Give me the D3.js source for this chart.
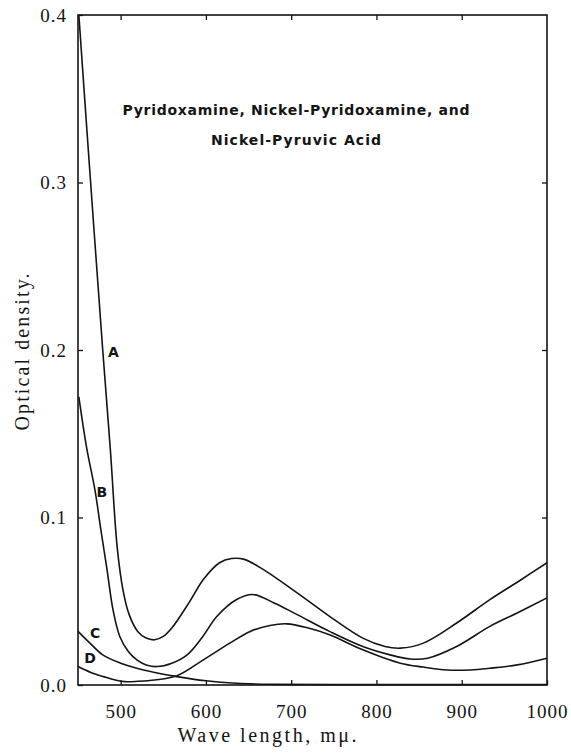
<!DOCTYPE html>
<html>
<head>
<meta charset="utf-8">
<script src="https://cdn.jsdelivr.net/npm/d3@7"></script>
<style>
  body { margin: 0; background: #fff; }
  svg { display: block; }
</style>
</head>
<body>
<svg width="571" height="753"></svg>
<script>
// wave length (m-mu) / optical density
var waveA = [451, 462, 479, 488, 496, 503, 510, 520, 530, 540, 550, 560, 580, 597, 616, 630, 645, 667, 707, 745, 784, 810, 828, 855, 894, 933, 970, 1000];
var odA   = [0.400, 0.320, 0.200, 0.140, 0.082, 0.056, 0.042, 0.032, 0.028, 0.027, 0.029, 0.034, 0.049, 0.063, 0.073, 0.0755, 0.075, 0.069, 0.055, 0.041, 0.028, 0.023, 0.022, 0.025, 0.037, 0.051, 0.063, 0.073];

var waveB = [451, 460, 470, 477, 484, 491, 499, 509, 519, 530, 543, 560, 578, 595, 613, 636, 655, 680, 707, 745, 784, 816, 840, 860, 894, 933, 965, 1000];
var odB   = [0.172, 0.142, 0.116, 0.092, 0.069, 0.045, 0.029, 0.020, 0.015, 0.012, 0.011, 0.013, 0.018, 0.028, 0.041, 0.051, 0.054, 0.049, 0.042, 0.032, 0.023, 0.018, 0.0155, 0.016, 0.023, 0.035, 0.043, 0.052];

var waveC = [450, 464, 479, 500, 519, 540, 566, 600, 636, 680, 750, 850, 1000];
var odC   = [0.032, 0.025, 0.018, 0.013, 0.010, 0.0075, 0.005, 0.0025, 0.001, 0.0004, 0.0002, 0.0002, 0.0002];

var waveD = [450, 465, 480, 495, 505, 520, 540, 566, 597, 628, 652, 675, 695, 720, 745, 784, 828, 855, 883, 910, 933, 965, 1000];
var odD   = [0.011, 0.0075, 0.005, 0.0028, 0.002, 0.0022, 0.003, 0.0055, 0.015, 0.025, 0.032, 0.0355, 0.0365, 0.034, 0.030, 0.021, 0.013, 0.0107, 0.009, 0.009, 0.010, 0.012, 0.016];

var curveNames = ["A", "B", "C", "D"];
// where each letter sits, in data units
var labelWave = [491.5, 478, 470, 464];
var labelOd   = [0.199, 0.115, 0.031, 0.016];

var xTicks = [500, 600, 700, 800, 900, 1000];
var yTicks = [0.0, 0.1, 0.2, 0.3, 0.4];

var titleLines = ["Pyridoxamine, Nickel-Pyridoxamine, and", "Nickel-Pyruvic Acid"];

(function() {
    var svg = d3.select("svg");
    var m = {left: 78, right: 547, top: 15, bottom: 685};
    var ink = "#141414";
    var serif = "'Liberation Serif', 'DejaVu Serif', serif";

    var x = d3.scaleLinear().domain([450, 1000]).range([m.left, m.right]);
    var y = d3.scaleLinear().domain([0, 0.4]).range([m.bottom, m.top]);

    function styleTicks(g) {
	g.select(".domain").remove();
	g.selectAll("line").attr("stroke", ink).attr("stroke-width", 1.3);
	g.selectAll("text")
	    .attr("fill", ink)
	    .style("font-family", serif)
	    .style("font-size", "19px")
	    .style("letter-spacing", "1px");
    }

    // bottom axis, ticks pointing in
    svg.append("g")
	.attr("transform", "translate(0," + m.bottom + ")")
	.call(d3.axisBottom(x).tickValues(xTicks).tickSize(-5).tickPadding(20).tickFormat(d3.format("d")))
	.call(styleTicks);

    svg.append("g")
	.attr("transform", "translate(" + m.left + ",0)")
	.call(d3.axisLeft(y).tickValues(yTicks).tickSize(-5).tickPadding(11).tickFormat(d3.format(".1f")))
	.call(styleTicks);

    // top and right: ticks only
    svg.append("g")
	.attr("transform", "translate(0," + m.top + ")")
	.call(d3.axisTop(x).tickValues(xTicks.slice(0, 5)).tickSize(-5).tickFormat(""))
	.call(styleTicks);

    svg.append("g")
	.attr("transform", "translate(" + m.right + ",0)")
	.call(d3.axisRight(y).tickValues(yTicks.slice(1, 4)).tickSize(-5).tickFormat(""))
	.call(styleTicks);

    // frame
    svg.append("rect")
	.attr("x", m.left).attr("y", m.top)
	.attr("width", m.right - m.left).attr("height", m.bottom - m.top)
	.attr("fill", "none")
	.attr("stroke", ink)
	.attr("stroke-width", 1.6);

    var series = [
	{name: "A", wave: waveA, od: odA},
	{name: "B", wave: waveB, od: odB},
	{name: "C", wave: waveC, od: odC},
	{name: "D", wave: waveD, od: odD}
    ];

    var line = d3.line()
	.x(function(d) { return x(d[0]); })
	.y(function(d) { return y(d[1]); })
	.curve(d3.curveCatmullRom.alpha(0.5));

    svg.append("g").selectAll("path")
	.data(series)
	.enter().append("path")
	.attr("d", function(s) { return line(d3.zip(s.wave, s.od)); })
	.attr("fill", "none")
	.attr("stroke", ink)
	.attr("stroke-width", 1.6)
	.attr("stroke-linejoin", "round");

    // curve letters
    svg.append("g").selectAll("text")
	.data(curveNames)
	.enter().append("text")
	.attr("x", function(d, i) { return x(labelWave[i]); })
	.attr("y", function(d, i) { return y(labelOd[i]); })
	.attr("dy", "0.36em")
	.attr("text-anchor", "middle")
	.attr("fill", ink)
	.style("font-family", "'DejaVu Sans', sans-serif")
	.style("font-weight", "bold")
	.style("font-size", "14px")
	.text(function(d) { return d; });

    // title inside the plot
    var titleWidth = [347, 170];
    svg.append("g").selectAll("text")
	.data(titleLines)
	.enter().append("text")
	.attr("x", 296)
	.attr("y", function(d, i) { return 110 + i * 30; })
	.attr("dy", "0.36em")
	.attr("text-anchor", "middle")
	.attr("textLength", function(d, i) { return titleWidth[i]; })
	.attr("lengthAdjust", "spacing")
	.attr("fill", ink)
	.style("font-family", "'DejaVu Sans', sans-serif")
	.style("font-weight", "bold")
	.style("font-size", "14px")
	.text(function(d) { return d; });

    // axis titles
    svg.append("text")
	.attr("x", 267)
	.attr("y", 736)
	.attr("dy", "0.32em")
	.attr("text-anchor", "middle")
	.attr("textLength", 179)
	.attr("lengthAdjust", "spacing")
	.attr("fill", ink)
	.style("font-family", serif)
	.style("font-size", "20px")
	.text("Wave length, m\u03bc.");

    svg.append("text")
	.attr("transform", "translate(23,352) rotate(-90)")
	.attr("dy", "0.32em")
	.attr("text-anchor", "middle")
	.attr("textLength", 157)
	.attr("lengthAdjust", "spacing")
	.attr("fill", ink)
	.style("font-family", serif)
	.style("font-size", "20px")
	.text("Optical density.");
})();
</script>
</body>
</html>
